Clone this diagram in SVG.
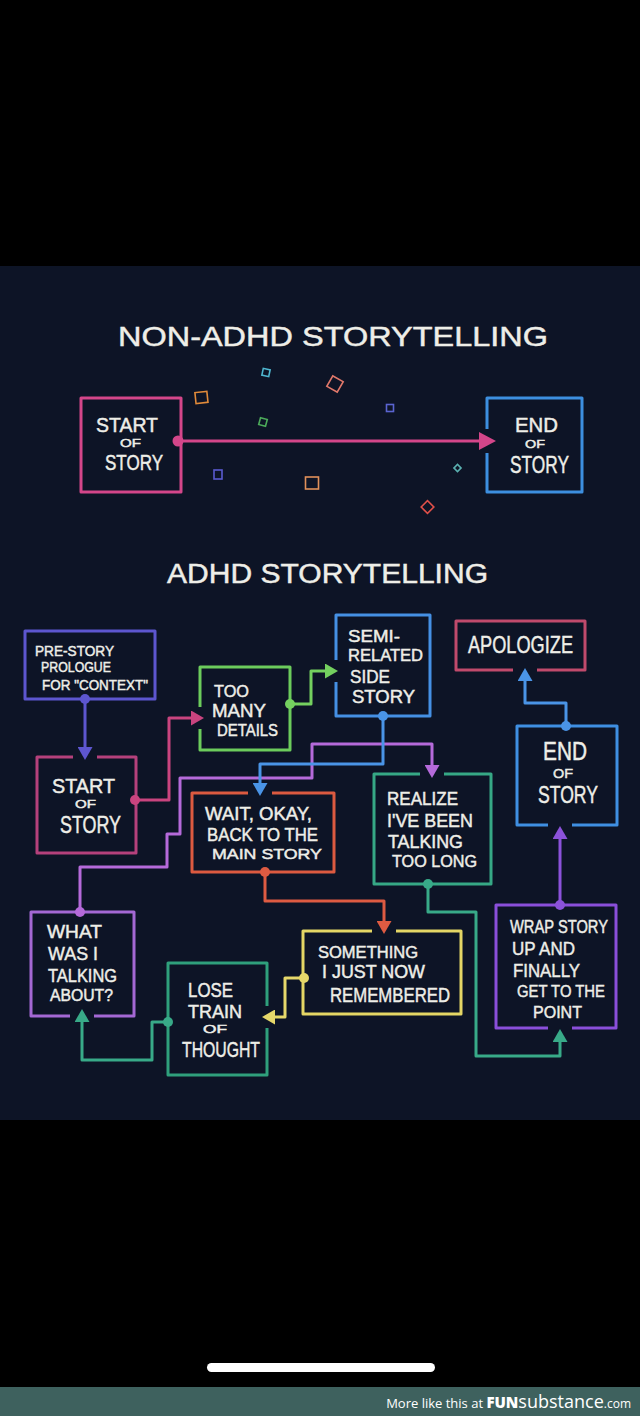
<svg xmlns="http://www.w3.org/2000/svg" width="640" height="1416" viewBox="0 0 640 1416">
<style>
.box{fill:none;stroke-width:3;stroke-linejoin:round}
.c{fill:none;stroke-width:3;stroke-linejoin:round;stroke-linecap:butt}
.gap{fill:#0d1426}
.t{font-family:"Liberation Sans",Arial,sans-serif;font-weight:400;fill:#eeeee8;stroke:#eeeee8;stroke-width:0.45}
.cf{fill:none;stroke-width:1.6}
</style>
<defs>
<marker id="aPink" viewBox="0 -9 17 18" refX="0" refY="0" markerWidth="17" markerHeight="18" markerUnits="userSpaceOnUse" orient="auto"><path d="M0,-9 L17,0 L0,9 z" fill="#d4468a"/></marker>
<marker id="dPink" viewBox="-6 -6 12 12" refX="0" refY="0" markerWidth="12" markerHeight="12" markerUnits="userSpaceOnUse"><circle r="5.5" fill="#d4468a"/></marker>
<marker id="a1" viewBox="0 -7.5 13 15" refX="0" refY="0" markerWidth="13" markerHeight="15" markerUnits="userSpaceOnUse" orient="auto"><path d="M0,-7.5 L13,0 L0,7.5 z" fill="#5d56cf"/></marker>
<marker id="d1" viewBox="-6 -6 12 12" markerWidth="12" markerHeight="12" markerUnits="userSpaceOnUse"><circle r="5" fill="#5d56cf"/></marker>
<marker id="a2" viewBox="0 -7.5 13 15" refX="0" refY="0" markerWidth="13" markerHeight="15" markerUnits="userSpaceOnUse" orient="auto"><path d="M0,-7.5 L13,0 L0,7.5 z" fill="#c9447f"/></marker>
<marker id="d2" viewBox="-6 -6 12 12" markerWidth="12" markerHeight="12" markerUnits="userSpaceOnUse"><circle r="5" fill="#c9447f"/></marker>
<marker id="a3" viewBox="0 -7.5 13 15" refX="0" refY="0" markerWidth="13" markerHeight="15" markerUnits="userSpaceOnUse" orient="auto"><path d="M0,-7.5 L13,0 L0,7.5 z" fill="#74d05f"/></marker>
<marker id="d3" viewBox="-6 -6 12 12" markerWidth="12" markerHeight="12" markerUnits="userSpaceOnUse"><circle r="5" fill="#74d05f"/></marker>
<marker id="a4" viewBox="0 -7.5 13 15" refX="0" refY="0" markerWidth="13" markerHeight="15" markerUnits="userSpaceOnUse" orient="auto"><path d="M0,-7.5 L13,0 L0,7.5 z" fill="#4a94e6"/></marker>
<marker id="d4" viewBox="-6 -6 12 12" markerWidth="12" markerHeight="12" markerUnits="userSpaceOnUse"><circle r="5" fill="#4a94e6"/></marker>
<marker id="a5" viewBox="0 -7.5 13 15" refX="0" refY="0" markerWidth="13" markerHeight="15" markerUnits="userSpaceOnUse" orient="auto"><path d="M0,-7.5 L13,0 L0,7.5 z" fill="#b56ada"/></marker>
<marker id="d5" viewBox="-6 -6 12 12" markerWidth="12" markerHeight="12" markerUnits="userSpaceOnUse"><circle r="5" fill="#b56ada"/></marker>
<marker id="a6" viewBox="0 -7.5 13 15" refX="0" refY="0" markerWidth="13" markerHeight="15" markerUnits="userSpaceOnUse" orient="auto"><path d="M0,-7.5 L13,0 L0,7.5 z" fill="#de5b42"/></marker>
<marker id="d6" viewBox="-6 -6 12 12" markerWidth="12" markerHeight="12" markerUnits="userSpaceOnUse"><circle r="5" fill="#de5b42"/></marker>
<marker id="a7" viewBox="0 -7.5 13 15" refX="0" refY="0" markerWidth="13" markerHeight="15" markerUnits="userSpaceOnUse" orient="auto"><path d="M0,-7.5 L13,0 L0,7.5 z" fill="#38aa88"/></marker>
<marker id="d7" viewBox="-6 -6 12 12" markerWidth="12" markerHeight="12" markerUnits="userSpaceOnUse"><circle r="5" fill="#38aa88"/></marker>
<marker id="a8" viewBox="0 -7.5 13 15" refX="0" refY="0" markerWidth="13" markerHeight="15" markerUnits="userSpaceOnUse" orient="auto"><path d="M0,-7.5 L13,0 L0,7.5 z" fill="#8b52da"/></marker>
<marker id="d8" viewBox="-6 -6 12 12" markerWidth="12" markerHeight="12" markerUnits="userSpaceOnUse"><circle r="5" fill="#8b52da"/></marker>
<marker id="a9" viewBox="0 -7.5 13 15" refX="0" refY="0" markerWidth="13" markerHeight="15" markerUnits="userSpaceOnUse" orient="auto"><path d="M0,-7.5 L13,0 L0,7.5 z" fill="#e6d86a"/></marker>
<marker id="d9" viewBox="-6 -6 12 12" markerWidth="12" markerHeight="12" markerUnits="userSpaceOnUse"><circle r="5" fill="#e6d86a"/></marker>
</defs>

<rect x="0" y="0" width="640" height="1416" fill="#000"/>
<rect x="0" y="266" width="640" height="854" fill="#0d1426"/>

<!-- NON-ADHD section -->
<text class="t" x="118" y="346" font-size="28" textLength="430" lengthAdjust="spacingAndGlyphs">NON-ADHD  STORYTELLING</text>

<g id="confetti">
<rect class="cf" x="262.5" y="369" width="7" height="7" stroke="#4fb7d0" transform="rotate(12 266 372.5)"/>
<rect class="cf" x="329" y="378" width="12" height="12" stroke="#e0786a" transform="rotate(30 335 384)"/>
<rect class="cf" x="195.5" y="392" width="12" height="11" stroke="#e08a3a" transform="rotate(-6 201 398)"/>
<rect class="cf" x="259.5" y="418.5" width="7" height="7" stroke="#4caa5a" transform="rotate(15 263 422)"/>
<rect class="cf" x="386.5" y="404.5" width="7" height="7" stroke="#5a64d0"/>
<rect class="cf" x="214" y="470" width="8" height="9" stroke="#5a5ad0"/>
<rect class="cf" x="305.5" y="477" width="13" height="12" stroke="#e0905a"/>
<rect class="cf" x="455" y="465.5" width="5" height="5" stroke="#5ab0b0" transform="rotate(45 457.5 468)"/>
<rect class="cf" x="423" y="502.5" width="9" height="9" stroke="#e0504a" transform="rotate(45 427.5 507)"/>
</g>

<g id="top-start">
<rect class="box" x="81" y="398" width="100" height="94" stroke="#d4468a"/>
<text class="t" x="96" y="432" font-size="21" textLength="62" lengthAdjust="spacingAndGlyphs">START</text>
<text class="t" x="120" y="447" font-size="11.5" textLength="21" lengthAdjust="spacingAndGlyphs">OF</text>
<text class="t" x="105" y="470" font-size="22" textLength="58" lengthAdjust="spacingAndGlyphs">STORY</text>
</g>
<g id="top-end">
<rect class="box" x="487" y="398" width="95" height="94" stroke="#3d8fe0"/>
<text class="t" x="515" y="432" font-size="21" textLength="43" lengthAdjust="spacingAndGlyphs">END</text>
<text class="t" x="525" y="448" font-size="11.5" textLength="20" lengthAdjust="spacingAndGlyphs">OF</text>
<text class="t" x="510" y="473" font-size="24" textLength="59" lengthAdjust="spacingAndGlyphs">STORY</text>
</g>

<!-- ADHD section -->
<text class="t" x="167" y="583" font-size="27" textLength="321" lengthAdjust="spacingAndGlyphs">ADHD  STORYTELLING</text>

<g id="prologue">
<rect class="box" x="25" y="631" width="130" height="68" stroke="#5d56cf"/>
<text class="t" x="35" y="656" font-size="14" textLength="79" lengthAdjust="spacingAndGlyphs">PRE-STORY</text>
<text class="t" x="41" y="672" font-size="14" textLength="70" lengthAdjust="spacingAndGlyphs">PROLOGUE</text>
<text class="t" x="42" y="690" font-size="14" textLength="106" lengthAdjust="spacingAndGlyphs">FOR &quot;CONTEXT&quot;</text>
</g>
<g id="start">
<rect class="box" x="37" y="757" width="99" height="96" stroke="#b5417c"/>
<text class="t" x="52" y="793" font-size="21" textLength="63" lengthAdjust="spacingAndGlyphs">START</text>
<text class="t" x="75" y="808" font-size="11.5" textLength="21" lengthAdjust="spacingAndGlyphs">OF</text>
<text class="t" x="60" y="833" font-size="24" textLength="61" lengthAdjust="spacingAndGlyphs">STORY</text>
</g>
<g id="too-many">
<rect class="box" x="200" y="667" width="90" height="83" stroke="#6ccc5c"/>
<text class="t" x="214" y="697" font-size="17" textLength="35" lengthAdjust="spacingAndGlyphs">TOO</text>
<text class="t" x="212" y="717" font-size="18" textLength="54" lengthAdjust="spacingAndGlyphs">MANY</text>
<text class="t" x="217" y="736" font-size="16" textLength="61" lengthAdjust="spacingAndGlyphs">DETAILS</text>
</g>
<g id="semi">
<rect class="box" x="336" y="615" width="94" height="101" stroke="#4590e4"/>
<text class="t" x="348" y="642" font-size="17" textLength="52" lengthAdjust="spacingAndGlyphs">SEMI-</text>
<text class="t" x="348" y="661" font-size="16" textLength="75" lengthAdjust="spacingAndGlyphs">RELATED</text>
<text class="t" x="350" y="683" font-size="19" textLength="40" lengthAdjust="spacingAndGlyphs">SIDE</text>
<text class="t" x="352" y="703" font-size="17.5" textLength="63" lengthAdjust="spacingAndGlyphs">STORY</text>
</g>
<g id="apologize">
<rect class="box" x="456" y="621" width="129" height="49" stroke="#c04a6c"/>
<text class="t" x="468" y="653" font-size="24" textLength="105" lengthAdjust="spacingAndGlyphs">APOLOGIZE</text>
</g>
<g id="end">
<rect class="box" x="517" y="726" width="100" height="99" stroke="#3f8fe2"/>
<text class="t" x="543" y="760" font-size="25" textLength="44" lengthAdjust="spacingAndGlyphs">END</text>
<text class="t" x="553" y="778" font-size="13.5" textLength="20" lengthAdjust="spacingAndGlyphs">OF</text>
<text class="t" x="538" y="803" font-size="24" textLength="60" lengthAdjust="spacingAndGlyphs">STORY</text>
</g>
<g id="wait">
<rect class="box" x="192" y="793" width="142" height="79" stroke="#dc5a40"/>
<text class="t" x="205" y="820" font-size="18" textLength="107" lengthAdjust="spacingAndGlyphs">WAIT, OKAY,</text>
<text class="t" x="207" y="841" font-size="18" textLength="111" lengthAdjust="spacingAndGlyphs">BACK TO THE</text>
<text class="t" x="212" y="859" font-size="15" textLength="110" lengthAdjust="spacingAndGlyphs">MAIN STORY</text>
</g>
<g id="realize">
<rect class="box" x="374" y="774" width="117" height="110" stroke="#36a885"/>
<text class="t" x="387" y="805" font-size="18" textLength="71" lengthAdjust="spacingAndGlyphs">REALIZE</text>
<text class="t" x="387" y="827" font-size="19" textLength="86" lengthAdjust="spacingAndGlyphs">I'VE BEEN</text>
<text class="t" x="388" y="848" font-size="18.5" textLength="75" lengthAdjust="spacingAndGlyphs">TALKING</text>
<text class="t" x="392" y="867" font-size="16.5" textLength="85" lengthAdjust="spacingAndGlyphs">TOO LONG</text>
</g>
<g id="what">
<rect class="box" x="31" y="912" width="103" height="104" stroke="#a468d4"/>
<text class="t" x="47" y="938" font-size="18" textLength="55" lengthAdjust="spacingAndGlyphs">WHAT</text>
<text class="t" x="48" y="960" font-size="19" textLength="50" lengthAdjust="spacingAndGlyphs">WAS I</text>
<text class="t" x="48" y="982" font-size="19" textLength="69" lengthAdjust="spacingAndGlyphs">TALKING</text>
<text class="t" x="50" y="1001" font-size="16" textLength="63" lengthAdjust="spacingAndGlyphs">ABOUT?</text>
</g>
<g id="something">
<rect class="box" x="303" y="931" width="158" height="83" stroke="#e4d665"/>
<text class="t" x="318" y="958" font-size="17" textLength="100" lengthAdjust="spacingAndGlyphs">SOMETHING</text>
<text class="t" x="322" y="978" font-size="17.5" textLength="103" lengthAdjust="spacingAndGlyphs">I JUST NOW</text>
<text class="t" x="330" y="1002" font-size="21" textLength="120" lengthAdjust="spacingAndGlyphs">REMEMBERED</text>
</g>
<g id="lose">
<rect class="box" x="168" y="963" width="99" height="112" stroke="#2fa07c"/>
<text class="t" x="188" y="997" font-size="21" textLength="45" lengthAdjust="spacingAndGlyphs">LOSE</text>
<text class="t" x="188" y="1018" font-size="18" textLength="54" lengthAdjust="spacingAndGlyphs">TRAIN</text>
<text class="t" x="203" y="1033" font-size="11" textLength="24" lengthAdjust="spacingAndGlyphs">OF</text>
<text class="t" x="182" y="1057" font-size="22" textLength="78" lengthAdjust="spacingAndGlyphs">THOUGHT</text>
</g>
<g id="wrap">
<rect class="box" x="496" y="905" width="120" height="123" stroke="#8a4fda"/>
<text class="t" x="510" y="933" font-size="18" textLength="98" lengthAdjust="spacingAndGlyphs">WRAP STORY</text>
<text class="t" x="512" y="955" font-size="19" textLength="63" lengthAdjust="spacingAndGlyphs">UP AND</text>
<text class="t" x="513" y="977" font-size="19" textLength="67" lengthAdjust="spacingAndGlyphs">FINALLY</text>
<text class="t" x="517" y="997" font-size="17" textLength="88" lengthAdjust="spacingAndGlyphs">GET TO THE</text>
<text class="t" x="533" y="1018" font-size="17" textLength="49" lengthAdjust="spacingAndGlyphs">POINT</text>
</g>

<g id="connectors">
<!-- gaps in box borders around arrow entries -->
<rect class="gap" x="484" y="429" width="6" height="24"/>
<rect class="gap" x="73" y="754" width="24" height="6"/>
<rect class="gap" x="197" y="707" width="6" height="22"/>
<rect class="gap" x="333" y="660" width="6" height="22"/>
<rect class="gap" x="248" y="790" width="24" height="6"/>
<rect class="gap" x="420" y="771" width="24" height="6"/>
<rect class="gap" x="372" y="928" width="24" height="6"/>
<rect class="gap" x="548" y="1025" width="24" height="6"/>
<rect class="gap" x="548" y="822" width="24" height="6"/>
<rect class="gap" x="513" y="667" width="24" height="6"/>
<rect class="gap" x="264" y="1006" width="6" height="22"/>
<rect class="gap" x="70" y="1013" width="24" height="6"/>

<path class="c" stroke="#d4468a" d="M178,441 H479" marker-start="url(#dPink)" marker-end="url(#aPink)"/>

<path class="c" stroke="#5d56cf" d="M85,699 V747" marker-start="url(#d1)" marker-end="url(#a1)"/>
<path class="c" stroke="#c9447f" d="M135,800 H169 V718 H191" marker-start="url(#d2)" marker-end="url(#a2)"/>
<path class="c" stroke="#74d05f" d="M290,704 H311 V671 H325" marker-start="url(#d3)" marker-end="url(#a3)"/>
<path class="c" stroke="#b56ada" d="M80,912 V867 H167 V834 H180 V778 H312 V744 H432 V765" marker-start="url(#d5)" marker-end="url(#a5)"/>
<path class="c" stroke="#4a94e6" d="M383,716 V764 H260 V783" marker-start="url(#d4)" marker-end="url(#a4)"/>
<path class="c" stroke="#de5b42" d="M265,872 V901 H384 V921" marker-start="url(#d6)" marker-end="url(#a6)"/>
<path class="c" stroke="#38aa88" d="M428,884 V912 H476 V1056 H560 V1042" marker-start="url(#d7)" marker-end="url(#a7)"/>
<path class="c" stroke="#8b52da" d="M560,905 V839" marker-start="url(#d8)" marker-end="url(#a8)"/>
<path class="c" stroke="#4a94e6" d="M566,726 V703 H525 V681" marker-start="url(#d4)" marker-end="url(#a4)"/>
<path class="c" stroke="#e6d86a" d="M304,978 H285 V1017 H275" marker-start="url(#d9)" marker-end="url(#a9)"/>
<path class="c" stroke="#38aa88" d="M168,1022 H152 V1060 H82 V1022" marker-start="url(#d7)" marker-end="url(#a7)"/>
</g>

<!-- phone chrome / footer -->
<rect x="207" y="1363" width="228" height="9" rx="4.5" fill="#fff"/>
<rect x="0" y="1387" width="640" height="29" fill="#3e615e"/>
<text x="631" y="1408" text-anchor="end" font-family="'Open Sans','Liberation Sans',sans-serif" fill="#fff"><tspan font-size="13">More like this at </tspan><tspan font-size="15" font-weight="800">FUN</tspan><tspan font-size="18">substance</tspan><tspan font-size="12">.com</tspan></text>
</svg>
